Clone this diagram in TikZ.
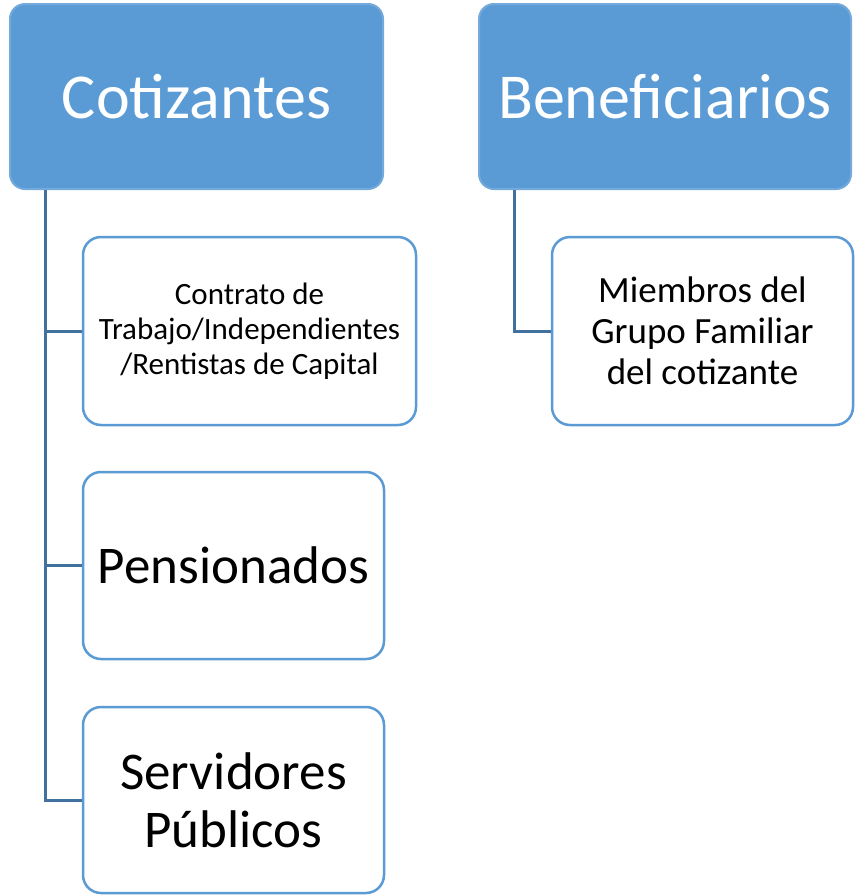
\documentclass[tikz,border=0pt]{standalone}
\usepackage{fontspec}
\setmainfont{Carlito}
\definecolor{hdrblue}{HTML}{5B9BD5}
\definecolor{lnblue}{HTML}{41719C}

\begin{document}
\begin{tikzpicture}[x=1pt,y=-1pt]
  % overall canvas
  \useasboundingbox (0,0) rectangle (859,895);

  % styles
  \tikzset{
    hdr/.style={draw=hdrblue!85,fill=hdrblue,line width=2pt,rounded corners=15pt,
      text=white,inner sep=0pt,align=center},
    kid/.style={draw=hdrblue,fill=white,line width=2.5pt,rounded corners=18pt,
      inner sep=0pt,align=center},
    conn/.style={draw=lnblue,line width=3pt,line cap=butt,line join=miter},
  }

  % white background
  \fill[white] (0,0) rectangle (859,895);

  % top level boxes
  \node[hdr,minimum width=373pt,minimum height=185pt,
    font=\fontsize{64}{72}\selectfont] (cot) at (196.5,96.5) {Cotizantes};
  \node[hdr,minimum width=372pt,minimum height=185pt,
    font=\fontsize{64}{72}\selectfont] (ben) at (665,96.5) {Beneficiarios};

  % children of Cotizantes
  \node[kid,minimum width=333pt,minimum height=188pt,
    font=\fontsize{31}{35}\selectfont] (ctr) at (249.5,331)
    {Contrato de\\Trabajo/Independientes\\/Rentistas de Capital};
  \node[kid,minimum width=301pt,minimum height=187pt,
    font=\fontsize{53}{58}\selectfont] (pen) at (233.5,565.5) {Pensionados};
  \node[kid,minimum width=301pt,minimum height=186pt,
    font=\fontsize{53}{58}\selectfont] (srv) at (233.5,800) {Servidores\\Públicos};

  % child of Beneficiarios
  \node[kid,minimum width=301pt,minimum height=188pt,
    font=\fontsize{37}{41}\selectfont] (mie) at (702.5,331)
    {Miembros del\\Grupo Familiar\\del cotizante};

  % connectors
  \draw[conn] ([xshift=36pt]cot.south west) |- (srv.west);
  \draw[conn] ([xshift=36pt]cot.south west) |- (ctr.west);
  \draw[conn] ([xshift=36pt]cot.south west) |- (pen.west);
  \draw[conn] ([xshift=36pt]ben.south west) |- (mie.west);
\end{tikzpicture}
\end{document}
